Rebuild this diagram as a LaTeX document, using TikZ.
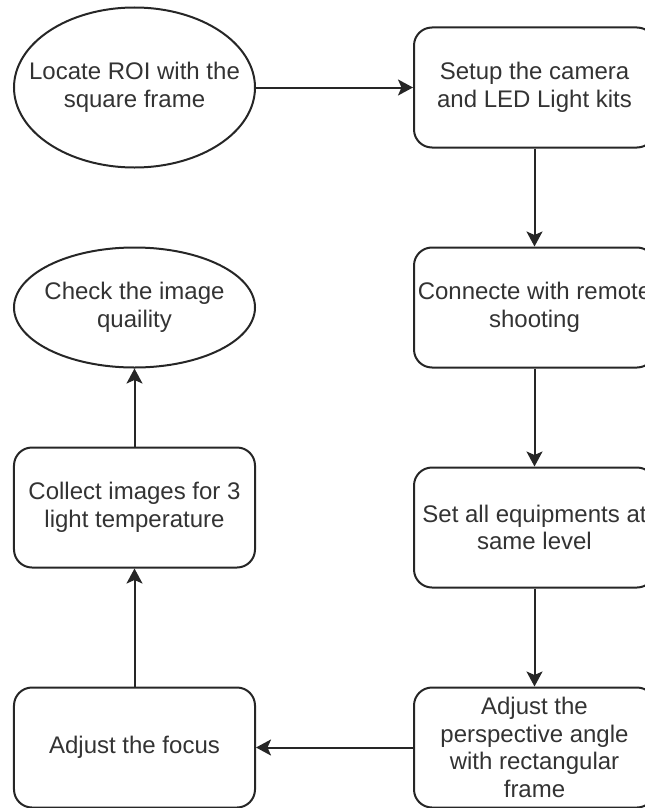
\documentclass[tikz,border=0pt]{standalone}
\usepackage{fontspec}
\setmainfont{Liberation Sans}
\usetikzlibrary{shapes.geometric,arrows.meta}
\definecolor{ink}{HTML}{333333}
\definecolor{edge}{HTML}{262626}
\begin{document}
\begin{tikzpicture}[x=1bp,y=-1bp,
  shapeline/.style={draw=edge, line width=2bp},
  stepbox/.style={shapeline, rectangle, rounded corners=18bp,
    minimum width=241bp, minimum height=120bp, inner sep=0pt},
  oval/.style={shapeline, ellipse, inner sep=0pt},
  lbl/.style={align=center, text=ink, inner sep=0pt,
    font=\fontsize{24bp}{27.6bp}\selectfont},
  flow/.style={draw=edge, line width=2bp,
    -{Stealth[length=15bp,width=16bp,inset=3.5bp]}}
]
\useasboundingbox (0,0) rectangle (645,808);
\clip (0,0) rectangle (645,808);

% shapes
\node[oval, minimum width=241bp, minimum height=160bp] (locate) at (134.5,87.5) {};
\node[stepbox] (setup)   at (534.5,87.5)  {};
\node[stepbox] (remote)  at (534.5,307.5) {};
\node[stepbox] (level)   at (534.5,527.5) {};
\node[stepbox] (angle)   at (534.5,747.5) {};
\node[stepbox] (focus)   at (134.5,747.5) {};
\node[stepbox] (collect) at (134.5,507.5) {};
\node[oval, minimum width=241bp, minimum height=120bp] (check) at (134.5,307.5) {};

% labels
\node[lbl] (tlocate)  at (locate)  {Locate ROI with the\\square frame};
\node[lbl] (tsetup)   at (setup)   {Setup the camera\\and LED Light kits};
\node[lbl] (tremote)  at (remote)  {Connecte with remote\\shooting};
\node[lbl] (tlevel)   at (level)   {Set all equipments at\\same level};
\node[lbl] (tangle)   at (angle)   {Adjust the\\perspective angle\\with rectangular\\frame};
\node[lbl] (tfocus)   at (focus)   {Adjust the focus};
\node[lbl] (tcollect) at (collect) {Collect images for 3\\light temperature};
\node[lbl] (tcheck)   at (check)   {Check the image\\quaility};

% connectors
\draw[flow] (locate)  -- (setup);
\draw[flow] (setup)   -- (remote);
\draw[flow] (remote)  -- (level);
\draw[flow] (level)   -- (angle);
\draw[flow] (angle)   -- (focus);
\draw[flow] (focus)   -- (collect);
\draw[flow] (collect) -- (check);
\end{tikzpicture}
\end{document}
